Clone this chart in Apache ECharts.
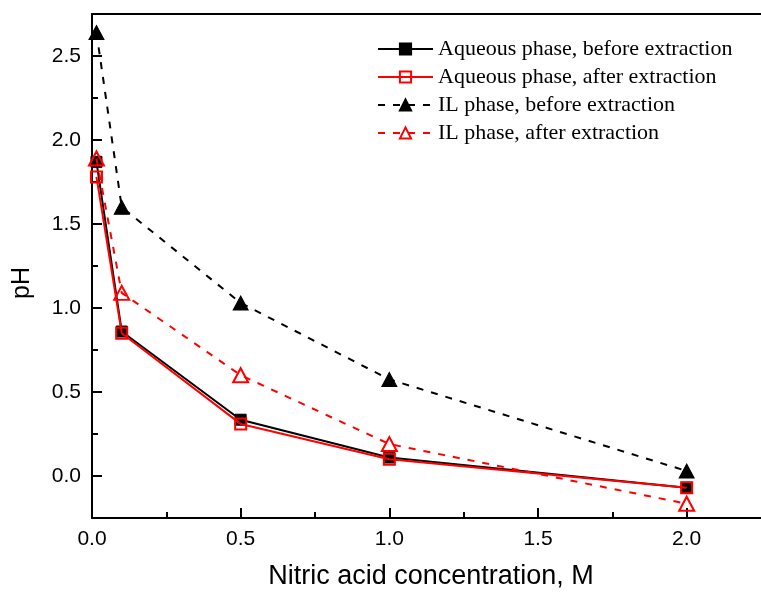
<!DOCTYPE html>
<html>
<head>
<meta charset="utf-8">
<script src="https://cdn.jsdelivr.net/npm/echarts@6/dist/echarts.min.js"></script>
<style>
  html, body { margin: 0; padding: 0; background: #fff; }
  #chart { width: 761px; height: 592px; }
</style>
</head>
<body>
<div id="chart"></div>
<script>
// Nitric acid concentration (M)
const concentration = [0.015, 0.1, 0.5, 1.0, 2.0];

// pH values
const aqueousBefore = [1.87, 0.86, 0.335, 0.11, -0.07];
const aqueousAfter  = [1.78, 0.85, 0.31, 0.10, -0.07];
const ilBefore      = [2.64, 1.60, 1.03, 0.575, 0.03];
const ilAfter       = [1.89, 1.09, 0.60, 0.19, -0.165];

const seriesNames = [
  'Aqueous phase, before extraction',
  'Aqueous phase, after extraction',
  'IL phase, before extraction',
  'IL phase, after extraction'
];

// Axis tick positions
const xMajorTicks = [0, 0.5, 1.0, 1.5, 2.0];
const xMinorTicks = [0.25, 0.75, 1.25, 1.75];
const yMajorTicks = [0, 0.5, 1.0, 1.5, 2.0, 2.5];
const yMinorTicks = [-0.25, 0.25, 0.75, 1.25, 1.75, 2.25];

const pairs = ys => concentration.map((x, i) => [x, ys[i]]);

const sansFont = '"Liberation Sans", Arial, sans-serif';
const serifFont = '"Liberation Serif", "Times New Roman", serif';

const X_MIN = 0, X_MAX = 2.25, Y_MIN = -0.25, Y_MAX = 2.75;

const chart = echarts.init(document.getElementById('chart'), null, { renderer: 'canvas' });

const baseX = { type: 'value', min: X_MIN, max: X_MAX, splitLine: { show: false } };
const baseY = { type: 'value', min: Y_MIN, max: Y_MAX, splitLine: { show: false } };
const blackLine = { color: '#000', width: 2 };

// An overlay axis that only draws inward ticks at the given values
const tickAxis = (base, position, values, length) => Object.assign({}, base, {
  position,
  axisLine: { show: false, onZero: false },
  axisTick: { show: true, inside: true, length, customValues: values, lineStyle: blackLine },
  axisLabel: { show: false }
});

chart.setOption({
  animation: false,
  backgroundColor: '#fff',
  grid: { left: 92, top: 14, width: 680, height: 504, containLabel: false },
  xAxis: [
    Object.assign({}, baseX, {
      position: 'bottom',
      axisLine: { show: true, onZero: false, lineStyle: blackLine },
      axisTick: { show: false },
      axisLabel: {
        show: true, margin: 11, customValues: xMajorTicks,
        formatter: v => v.toFixed(1),
        fontFamily: sansFont, fontSize: 21, color: '#000'
      }
    }),
    tickAxis(baseX, 'bottom', xMajorTicks, 10),
    tickAxis(baseX, 'bottom', xMinorTicks, 6),
    Object.assign({}, baseX, {
      position: 'top',
      axisLine: { show: true, onZero: false, lineStyle: blackLine },
      axisTick: { show: false },
      axisLabel: { show: false }
    })
  ],
  yAxis: [
    Object.assign({}, baseY, {
      position: 'left',
      axisLine: { show: true, onZero: false, lineStyle: blackLine },
      axisTick: { show: false },
      axisLabel: {
        show: true, margin: 11, customValues: yMajorTicks,
        formatter: v => v.toFixed(1),
        fontFamily: sansFont, fontSize: 21, color: '#000'
      }
    }),
    tickAxis(baseY, 'left', yMajorTicks, 10),
    tickAxis(baseY, 'left', yMinorTicks, 6)
  ],
  legend: {
    orient: 'vertical',
    left: 377,
    top: 38,
    padding: 0,
    itemWidth: 55,
    itemHeight: 14,
    itemGap: 6,
    data: seriesNames,
    textStyle: { fontFamily: serifFont, fontSize: 22, color: '#000' }
  },
  graphic: [
    {
      type: 'text', x: 431, y: 577,
      style: { text: 'Nitric acid concentration, M', font: '27px ' + sansFont, fill: '#000', align: 'center', verticalAlign: 'middle' }
    },
    {
      type: 'text', x: 10, y: 283, rotation: Math.PI / 2,
      style: { text: 'pH', font: '25px ' + sansFont, fill: '#000', align: 'center', verticalAlign: 'top' }
    }
  ],
  series: [
    {
      name: seriesNames[0], type: 'line', data: pairs(aqueousBefore),
      symbol: 'rect', symbolSize: 11,
      lineStyle: { color: '#000', width: 2 },
      itemStyle: { color: '#000', borderColor: '#000', borderWidth: 1 },
      z: 2
    },
    {
      name: seriesNames[1], type: 'line', data: pairs(aqueousAfter),
      symbol: 'rect', symbolSize: 11,
      lineStyle: { color: '#ff0000', width: 2 },
      itemStyle: { color: 'rgba(255,255,255,0)', borderColor: '#ff0000', borderWidth: 2 },
      z: 3
    },
    {
      name: seriesNames[2], type: 'line', data: pairs(ilBefore),
      symbol: 'triangle', symbolSize: [15, 14],
      lineStyle: { color: '#000', width: 2, type: [7, 8] },
      itemStyle: { color: '#000', borderColor: '#000', borderWidth: 1 },
      z: 4
    },
    {
      name: seriesNames[3], type: 'line', data: pairs(ilAfter),
      symbol: 'triangle', symbolSize: [15, 14],
      lineStyle: { color: '#ff0000', width: 2, type: [7, 8] },
      itemStyle: { color: 'rgba(255,255,255,0)', borderColor: '#ff0000', borderWidth: 2 },
      z: 5
    }
  ]
});
</script>
</body>
</html>
